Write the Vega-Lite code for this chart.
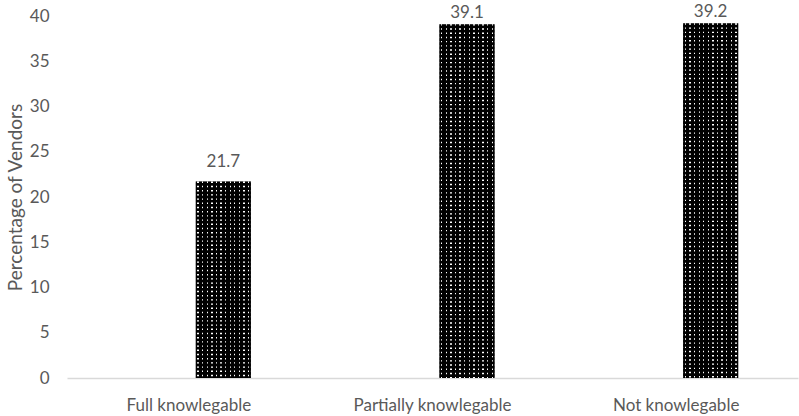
{
  "$schema": "https://vega.github.io/schema/vega-lite/v6.json",
  "width": 731,
  "height": 362,
  "autosize": {"type": "none"},
  "padding": {"left": 67, "top": 16, "right": 1, "bottom": 38},
  "background": "white",
  "config": {
    "view": {"stroke": null},
    "font": "Lato",
    "axis": {"labelFont": "Lato", "titleFont": "Lato", "labelColor": "#595959", "titleColor": "#595959", "grid": false, "ticks": false}
  },
  "data": {
    "values": [
      {"category": "Full knowlegable", "value": 21.7},
      {"category": "Partially knowlegable", "value": 39.1},
      {"category": "Not knowlegable", "value": 39.2}
    ]
  },
  "encoding": {
    "x": {
      "field": "category",
      "type": "nominal",
      "sort": null,
      "scale": {"paddingInner": 0, "paddingOuter": 0},
      "axis": {
        "title": null,
        "labelAngle": 0,
        "labelFontSize": 17,
        "labelPadding": 19,
        "domainColor": "#d9d9d9",
        "domainWidth": 1.5
      }
    },
    "y": {
      "field": "value",
      "type": "quantitative",
      "scale": {"domain": [0, 40], "nice": false},
      "axis": {
        "title": "Percentage of Vendors",
        "titleFontSize": 19,
        "titleFontWeight": "normal",
        "titleX": -52,
        "titleBaseline": "middle",
        "values": [0, 5, 10, 15, 20, 25, 30, 35, 40],
        "labelFontSize": 17,
        "labelPadding": 18,
        "domain": false
      }
    }
  },
  "layer": [
    {
      "mark": {"type": "bar", "width": 55, "xOffset": 34.5, "fill": "#000", "strokeWidth": 0}
    },
    {
      "mark": {"type": "rule", "xOffset": 34.5, "stroke": "#fff", "strokeWidth": 55, "strokeDash": [1.4, 2.8], "strokeCap": "butt"},
      "encoding": {"y2": {"datum": 0}}
    },
    {
      "mark": {
        "type": "bar",
        "width": 55,
        "xOffset": 34.5,
        "strokeWidth": 0,
        "fill": {
          "gradient": "linear",
          "x1": 0, "y1": 0, "x2": 1, "y2": 0,
          "stops": [
            {"offset": 0, "color": "#000"},
            {"offset": 0.029, "color": "#000"}, {"offset": 0.029, "color": "rgba(0,0,0,0)"}, {"offset": 0.0544, "color": "rgba(0,0,0,0)"}, {"offset": 0.0544, "color": "#000"},
            {"offset": 0.1123, "color": "#000"}, {"offset": 0.1123, "color": "rgba(0,0,0,0)"}, {"offset": 0.1377, "color": "rgba(0,0,0,0)"}, {"offset": 0.1377, "color": "#000"},
            {"offset": 0.1956, "color": "#000"}, {"offset": 0.1956, "color": "rgba(0,0,0,0)"}, {"offset": 0.221, "color": "rgba(0,0,0,0)"}, {"offset": 0.221, "color": "#000"},
            {"offset": 0.279, "color": "#000"}, {"offset": 0.279, "color": "rgba(0,0,0,0)"}, {"offset": 0.3044, "color": "rgba(0,0,0,0)"}, {"offset": 0.3044, "color": "#000"},
            {"offset": 0.3623, "color": "#000"}, {"offset": 0.3623, "color": "rgba(0,0,0,0)"}, {"offset": 0.3877, "color": "rgba(0,0,0,0)"}, {"offset": 0.3877, "color": "#000"},
            {"offset": 0.4456, "color": "#000"}, {"offset": 0.4456, "color": "rgba(0,0,0,0)"}, {"offset": 0.471, "color": "rgba(0,0,0,0)"}, {"offset": 0.471, "color": "#000"},
            {"offset": 0.529, "color": "#000"}, {"offset": 0.529, "color": "rgba(0,0,0,0)"}, {"offset": 0.5544, "color": "rgba(0,0,0,0)"}, {"offset": 0.5544, "color": "#000"},
            {"offset": 0.6123, "color": "#000"}, {"offset": 0.6123, "color": "rgba(0,0,0,0)"}, {"offset": 0.6377, "color": "rgba(0,0,0,0)"}, {"offset": 0.6377, "color": "#000"},
            {"offset": 0.6956, "color": "#000"}, {"offset": 0.6956, "color": "rgba(0,0,0,0)"}, {"offset": 0.721, "color": "rgba(0,0,0,0)"}, {"offset": 0.721, "color": "#000"},
            {"offset": 0.779, "color": "#000"}, {"offset": 0.779, "color": "rgba(0,0,0,0)"}, {"offset": 0.8044, "color": "rgba(0,0,0,0)"}, {"offset": 0.8044, "color": "#000"},
            {"offset": 0.8623, "color": "#000"}, {"offset": 0.8623, "color": "rgba(0,0,0,0)"}, {"offset": 0.8877, "color": "rgba(0,0,0,0)"}, {"offset": 0.8877, "color": "#000"},
            {"offset": 0.9456, "color": "#000"}, {"offset": 0.9456, "color": "rgba(0,0,0,0)"}, {"offset": 0.971, "color": "rgba(0,0,0,0)"}, {"offset": 0.971, "color": "#000"},
            {"offset": 1, "color": "#000"}
          ]
        }
      }
    },
    {
      "transform": [{"filter": "datum.value < 30"}],
      "mark": {"type": "text", "xOffset": 34.5, "dy": -15, "baseline": "alphabetic", "fontSize": 17, "color": "#595959"},
      "encoding": {"text": {"field": "value", "type": "quantitative", "format": ".1f"}}
    },
    {
      "transform": [{"filter": "datum.value >= 30"}],
      "mark": {"type": "text", "xOffset": 34.5, "dy": -6.5, "baseline": "alphabetic", "fontSize": 17, "color": "#595959"},
      "encoding": {"text": {"field": "value", "type": "quantitative", "format": ".1f"}}
    }
  ]
}
